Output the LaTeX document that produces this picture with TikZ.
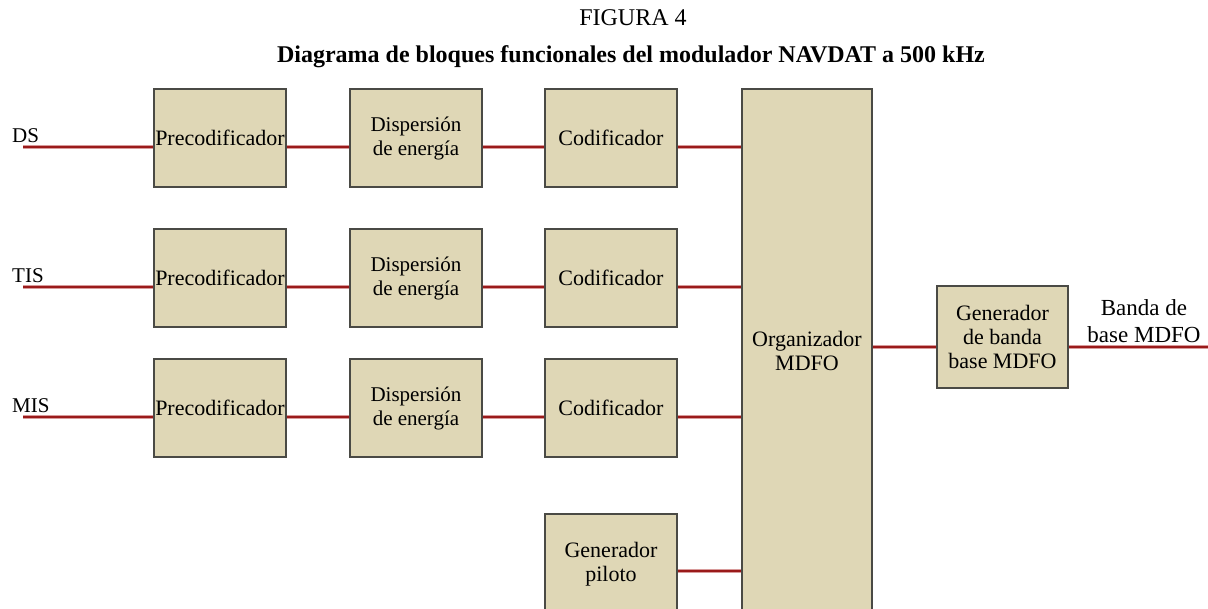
\documentclass[tikz,border=0pt]{standalone}
\usepackage{fontspec}
\setmainfont{Liberation Serif}
\usetikzlibrary{calc}
\definecolor{boxfill}{HTML}{DFD7B6}
\definecolor{boxline}{HTML}{4A4A45}
\definecolor{wire}{HTML}{9A1A1A}
\definecolor{wirehalo}{HTML}{D89A9A}
\tikzset{
  blk/.style={draw=boxline, line width=1.6pt, fill=boxfill, minimum width=132pt, inner sep=1pt, align=center, font=\fontsize{22}{24}\selectfont},
  dispblk/.style={blk, font=\fontsize{21}{24}\selectfont},
  wirelink/.style={draw=wire, line width=2.4pt, preaction={draw=wirehalo, line width=4pt}},
  lbl/.style={font=\fontsize{21}{24}\selectfont, inner sep=0pt, align=center}
}
\begin{document}
\begin{tikzpicture}[x=1pt,y=-1pt]
\useasboundingbox (0,0) rectangle (1208,609);
\clip (0,0) rectangle (1208,609);
\fill[white] (0,0) rectangle (1208,609);
% titles
\node[lbl, font=\fontsize{24}{26}\selectfont] (title) at (633,18) {FIGURA 4};
\node[lbl, font=\fontsize{24}{26}\selectfont\bfseries] (subtitle) at (631,57) {Diagrama de bloques funcionales del modulador NAVDAT a 500 kHz};
% row reference coordinates
\coordinate (r1) at (0,147);
\coordinate (r2) at (0,287);
\coordinate (r3) at (0,417);
\coordinate (r4) at (0,571);
\coordinate (r5) at (0,347);
% blocks
\node[blk, minimum height=98pt, inner sep=0pt] (p1) at (220,138) {Precodificador};
\node[dispblk, minimum height=98pt] (d1) at (416,138) {Dispersión\\de energía};
\node[blk, minimum height=98pt] (c1) at (611,138) {Codificador};
\node[blk, minimum height=98pt, inner sep=0pt] (p2) at (220,278) {Precodificador};
\node[dispblk, minimum height=98pt] (d2) at (416,278) {Dispersión\\de energía};
\node[blk, minimum height=98pt] (c2) at (611,278) {Codificador};
\node[blk, minimum height=98pt, inner sep=0pt] (p3) at (220,408) {Precodificador};
\node[dispblk, minimum height=98pt] (d3) at (416,408) {Dispersión\\de energía};
\node[blk, minimum height=98pt] (c3) at (611,408) {Codificador};
\node[blk, minimum height=100pt] (pil) at (611,564) {Generador\\piloto};
\node[blk, minimum width=130pt, minimum height=524pt] (org) at (807,351) {Organizador\\MDFO};
\node[blk, minimum width=131pt, minimum height=102pt] (gen) at (1002.5,337) {Generador\\de banda\\base MDFO};
% inputs / output
\coordinate (in1) at (23,147);
\coordinate (in2) at (23,287);
\coordinate (in3) at (23,417);
\coordinate (out) at (1208,347);
\node[lbl, anchor=base west] (ds) at (12,143) {DS};
\node[lbl, anchor=base west] (tis) at (12,283) {TIS};
\node[lbl, anchor=base west] (mis) at (12,413) {MIS};
\node[lbl, font=\fontsize{23}{27}\selectfont] (outlbl) at (1144,321) {Banda de\\base MDFO};
% wires
\draw[wirelink] (in1) -- (p1.west |- r1);
\draw[wirelink] (in2) -- (p2.west |- r2);
\draw[wirelink] (in3) -- (p3.west |- r3);
\draw[wirelink] (p1.east |- r1) -- (d1.west |- r1);
\draw[wirelink] (p2.east |- r2) -- (d2.west |- r2);
\draw[wirelink] (p3.east |- r3) -- (d3.west |- r3);
\draw[wirelink] (d1.east |- r1) -- (c1.west |- r1);
\draw[wirelink] (d2.east |- r2) -- (c2.west |- r2);
\draw[wirelink] (d3.east |- r3) -- (c3.west |- r3);
\draw[wirelink] (c1.east |- r1) -- (org.west |- r1);
\draw[wirelink] (c2.east |- r2) -- (org.west |- r2);
\draw[wirelink] (c3.east |- r3) -- (org.west |- r3);
\draw[wirelink] (pil.east |- r4) -- (org.west |- r4);
\draw[wirelink] (org.east |- r5) -- (gen.west |- r5);
\draw[wirelink] (gen.east |- r5) -- (out);
\end{tikzpicture}
\end{document}
